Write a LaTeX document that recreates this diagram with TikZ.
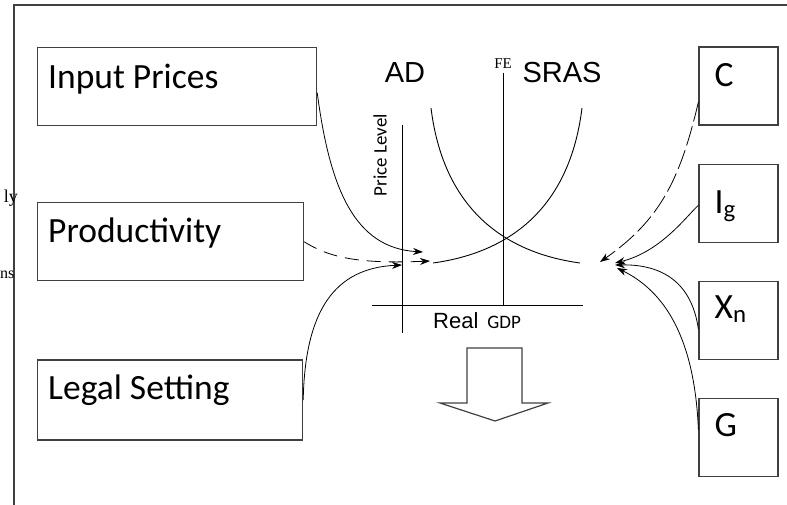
\documentclass[tikz,border=0pt]{standalone}
\usepackage{fontspec}
\setmainfont{Carlito}
\newfontfamily\arialfont{Liberation Sans}
\newfontfamily\tnrfont{Liberation Serif}
\usetikzlibrary{arrows.meta, positioning}
\definecolor{boxgray}{RGB}{64,64,64}

\begin{document}
\begin{tikzpicture}[
  x=1pt, y=-1pt,
  node distance=38pt,
  box/.style={draw=boxgray, line width=1.2pt, minimum width=79pt, minimum height=78pt, inner sep=0pt},
  boxtxt/.style={anchor=north west, inner sep=0pt, xshift=11pt, yshift=-15pt, font=\fontsize{35.5}{40}\selectfont},
  curve/.style={line width=0.9pt},
  link/.style={line width=0.8pt, -{Stealth[length=10pt, width=7pt]}},
  big/.style={font=\arialfont\fontsize{29}{33}\selectfont}
]
  \useasboundingbox (0,0) rectangle (787,505);
  \draw[line width=1.2pt, boxgray] (14,505) -- (14,5) -- (787,5);

  % left boxes
  \node[box, minimum width=279pt, anchor=north west,
        label={[boxtxt, yshift=-2pt]north west:Input Prices}] (inp) at (37,47) {};
  \node[box, minimum width=266pt, below=76pt of inp.south west, anchor=north west,
        label={[boxtxt]north west:Productivity}] (prod) {};
  \node[box, minimum width=265pt, minimum height=80pt, below=78pt of prod.south west, anchor=north west,
        label={[boxtxt]north west:Legal Setting}] (legal) {};

  % right boxes
  \node[box, label={[boxtxt, xshift=5pt, yshift=-2pt]north west:C}] (c) at (738.5,86) {};
  \node[box, below=of c, label={[boxtxt, xshift=5pt, yshift=-12pt]north west:I\textsubscript{g}}] (ig) {};
  \node[box, below=of ig, label={[boxtxt, xshift=5pt]north west:X\textsubscript{n}}] (xn) {};
  \node[box, below=of xn, label={[boxtxt, xshift=5pt]north west:G}] (g) {};

  % axes and curves
  \draw[curve] (402,125) -- (402,333);
  \draw[curve] (372,305) -- (583,305);
  \draw[curve] (503,73) -- (503,305);
  \draw[curve] (431,108) .. controls (443,205) and (500,252) .. (580,263);
  \draw[curve] (433,263) .. controls (513,252) and (570,205) .. (582,108);

  \node[big, anchor=base] (ad) at (405,83) {AD};
  \node[big, anchor=base] (sras) at (562,83) {SRAS};
  \node[font=\tnrfont\fontsize{15}{17}\selectfont] (fe) at (503,64) {FE};
  \node[rotate=90, font=\fontsize{19}{22}\selectfont] (pl) at (380,155) {Price Level};
  \node[anchor=base west, inner sep=0pt] (rgdp) at (433,328)
    {{\arialfont\fontsize{22}{26}\selectfont Real}\hspace{9pt}{\fontsize{19}{22}\selectfont GDP}};

  \node[anchor=base east, inner sep=0pt, font=\tnrfont\fontsize{18}{20}\selectfont] (ly) at (18,203) {ly};
  \node[anchor=base west, inner sep=0pt, font=\tnrfont\fontsize{16}{18}\selectfont] (ns) at (0,278) {ns};

  % arrows into the curves
  \coordinate (tipin) at (423,252);
  \coordinate (tipprod) at (430,261);
  \coordinate (tiplegal) at (402,265);
  \coordinate (tipc) at (600,262);
  \coordinate (tipig) at (615,263);
  \coordinate (tipxn) at (615,265);
  \coordinate (tipg) at (617,268);

  \draw[link] ([yshift=-6pt]inp.east) .. controls (330,190) and (355,248) .. (tipin);
  \draw[link, dash pattern=on 14pt off 8pt] (prod.east) .. controls (330,258) and (360,264) .. (tipprod);
  \draw[link] (legal.east) .. controls (305,310) and (335,268) .. (tiplegal);
  \draw[link, dash pattern=on 20pt off 5pt] ([yshift=-16pt]c.west) .. controls (680,180) and (660,220) .. (tipc);
  \draw[link] ([yshift=-2pt]ig.west) .. controls (685,218) and (660,252) .. (tipig);
  \draw[link] ([yshift=-9pt]xn.west) .. controls (693,290) and (670,264) .. (tipxn);
  \draw[link] ([yshift=8pt]g.west) .. controls (695,350) and (672,295) .. (tipg);

  % the big arrow below
  \draw[line width=1.2pt, boxgray] (467,348) -- (522,348) -- (522,403) -- (548,403) -- (495,421) -- (440,403) -- (467,403) -- cycle;
\end{tikzpicture}
\end{document}
